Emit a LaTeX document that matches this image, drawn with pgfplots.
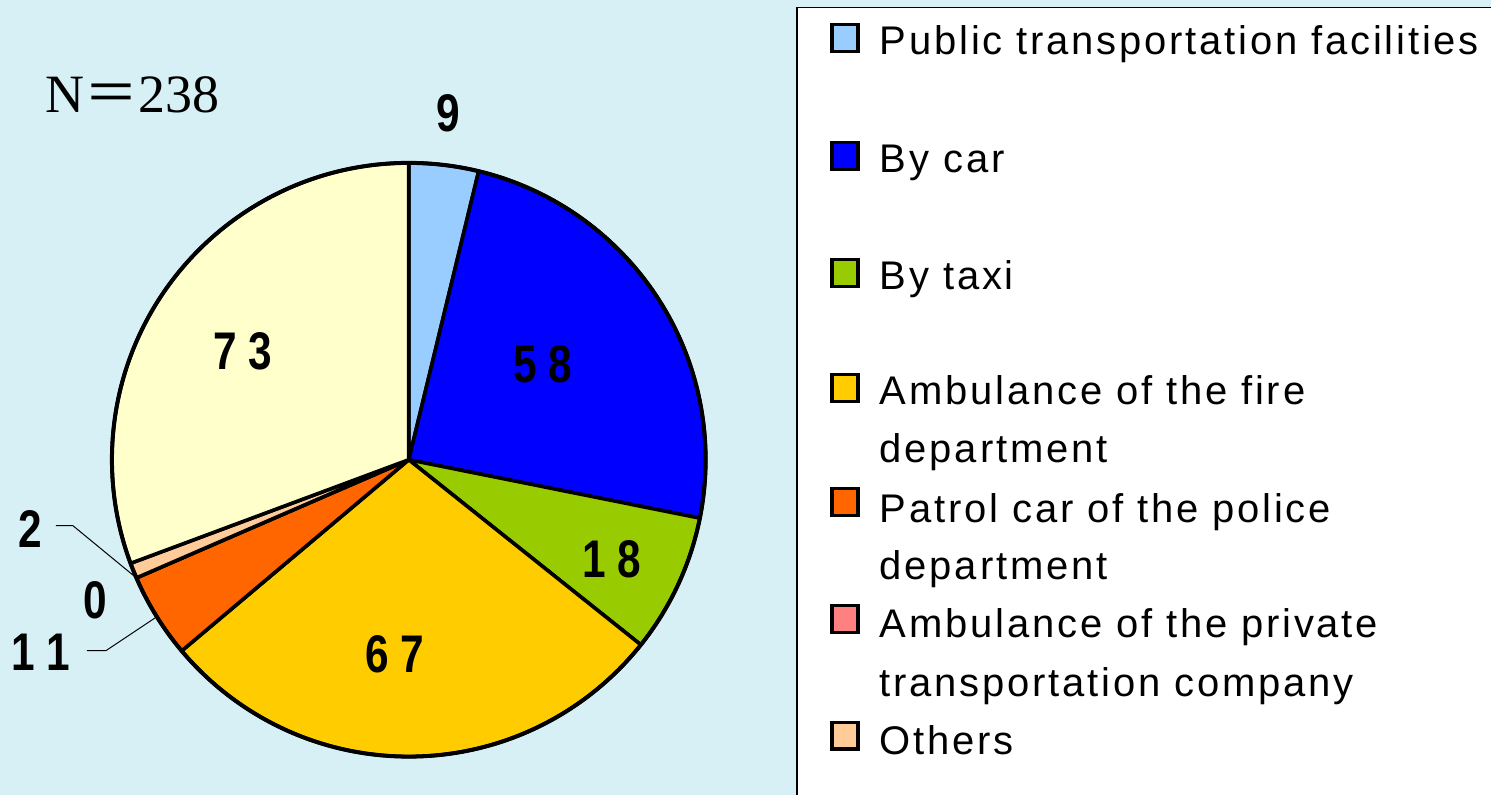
\documentclass[border=0pt]{standalone}
\usepackage{pgfplots}
\pgfplotsset{compat=1.18}
\usepackage{fontspec}
\usepackage{graphicx}
\setmainfont{Liberation Sans}
\newfontfamily\legfam[LetterSpace=7]{Liberation Sans}
\newfontfamily\serifN{Liberation Serif}
\newfontfamily\cjk{Noto Sans CJK JP}
\definecolor{bg}{HTML}{D7F0F5}
\definecolor{cPub}{HTML}{99CCFF}
\definecolor{cCar}{HTML}{0000FF}
\definecolor{cTaxi}{HTML}{99CC00}
\definecolor{cFire}{HTML}{FFCC00}
\definecolor{cPol}{HTML}{FF6600}
\definecolor{cPriv}{HTML}{FF8080}
\definecolor{cOth}{HTML}{FFCC99}
\definecolor{cUnk}{HTML}{FFFFCC}
\newcommand\dg[1]{\scalebox{0.8}[1]{#1}}
\newcommand\labfont{\fontsize{26.5}{30}\selectfont\bfseries}
\newcommand\legfont{\legfam\fontsize{20}{23}\selectfont}
\begin{document}
\begin{tikzpicture}
\begin{axis}[
  width=746pt, height=397.5pt, scale only axis,
  xmin=0, xmax=1492, ymin=0, ymax=795,
  hide axis, clip=false]
\pgfplotsextra{
% background
\fill[bg] (axis cs:0,0) rectangle (axis cs:1492,795);
% legend box
\fill[white] (axis cs:797.5,0) rectangle (axis cs:1492,787.5);
\draw[black, line width=0.8pt] (axis cs:797.5,0) -- (axis cs:797.5,787.5) -- (axis cs:1492,787.5);
% pie slices (values, clockwise from top), N = 238
\gdef\acc{0}
\foreach \v/\col in {9/cPub, 58/cCar, 18/cTaxi, 67/cFire, 11/cPol, 0/cPriv, 2/cOth, 73/cUnk}{
  \pgfmathsetmacro\a{90-\acc/238*360}
  \pgfmathsetmacro\b{90-(\acc+\v)/238*360}
  \filldraw[fill=\col, draw=black, line width=1.8pt, line join=round]
     (axis cs:409,335) -- ++(\a:148.5pt) arc[start angle=\a, end angle=\b, radius=148.5pt] -- cycle;
  \pgfmathsetmacro\n{\acc+\v}
  \xdef\acc{\n}
}
\draw[black, line width=2pt] (axis cs:409,335) circle[radius=148.5pt];
% leader lines
\draw[black, line width=0.5pt] (axis cs:56,269) -- (axis cs:73,269) -- (axis cs:135,218);
\draw[black, line width=0.5pt] (axis cs:87,144) -- (axis cs:106,144) -- (axis cs:157,178);
% value labels
\node[font=\labfont] at (axis cs:449,682) {\dg{9}};
\node[font=\labfont] at (axis cs:543,431) {\dg{5}\hspace{6pt}\dg{8}};
\node[font=\labfont] at (axis cs:612,235) {\dg{1}\hspace{6pt}\dg{8}};
\node[font=\labfont] at (axis cs:395,140) {\dg{6}\hspace{6pt}\dg{7}};
\node[font=\labfont] at (axis cs:243,443) {\dg{7}\hspace{6pt}\dg{3}};
\node[font=\labfont] at (axis cs:30,266) {\dg{2}};
\node[font=\labfont] at (axis cs:95,194) {\dg{0}};
\node[font=\labfont] at (axis cs:41,142) {\dg{1}\hspace{6pt}\dg{1}};
% N
\node[anchor=base west, inner sep=0pt, font=\fontsize{27}{30}\selectfont] at (axis cs:45,682) {\serifN N{\cjk ＝}238};
% legend entries
\foreach \yc/\col in {757/cPub, 639/cCar, 522/cTaxi, 407/cFire, 292.5/cPol, 176/cPriv, 59/cOth}{
  \filldraw[fill=\col, draw=black, line width=1.6pt] (axis cs:832.5,\yc-13.5) rectangle (axis cs:858.5,\yc+13.5);
}
\foreach \yb/\txt in {740/{Public transportation facilities}, 622/{By car}, 505/{By taxi},
   390/{Ambulance of the fire}, 332/{department}, 272/{Patrol car of the police}, 215/{department},
   157/{Ambulance of the private}, 98/{transportation company}, 40/{Others}}{
  \node[anchor=base west, inner sep=0pt, font=\legfont] at (axis cs:880,\yb) {\txt};
}
}
\end{axis}
\end{tikzpicture}
\end{document}
